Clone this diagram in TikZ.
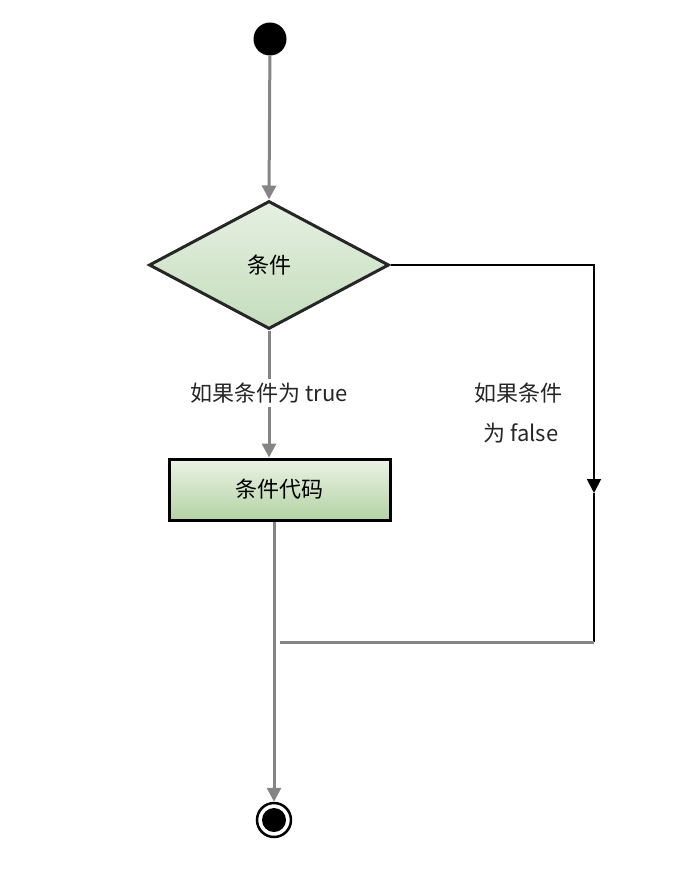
\documentclass[tikz,border=0pt]{standalone}
\usepackage{fontspec}
\setmainfont{Noto Sans CJK SC}
\usetikzlibrary{shapes.geometric,arrows.meta}
\definecolor{linegray}{HTML}{858585}
\definecolor{dgreenT}{HTML}{E6F0E2}
\definecolor{dgreenB}{HTML}{C4DDBC}
\definecolor{bgreenT}{HTML}{EBF3E6}
\definecolor{bgreenB}{HTML}{B3D2A3}
\tikzset{
  tip/.style={-{Triangle[width=14pt,length=14pt]}},
  flowline/.style={draw=linegray,line width=3pt},
  falseline/.style={draw=black,line width=1.8pt},
  lbl/.style={font=\fontsize{22}{26}\selectfont,text=black!85},
  cond/.style={diamond,draw=black!85,line width=3pt,minimum width=240pt,minimum height=128pt,inner sep=0pt,top color=dgreenT,bottom color=dgreenB,font=\fontsize{22}{26}\selectfont},
  codebox/.style={rectangle,draw=black,line width=3pt,minimum width=221pt,minimum height=61pt,top color=bgreenT,bottom color=bgreenB,font=\fontsize{22}{26}\selectfont},
}
\begin{document}
\begin{tikzpicture}[x=1pt,y=-1pt]
\useasboundingbox (0,0) rectangle (693,890);
\node[circle,fill=black,minimum size=33pt,inner sep=0pt] (start) at (270,39) {};
\node[cond] (c) at (269,265) {条件};
\node[codebox] (code) at (279.5,489.5) {条件代码};
\node[circle,draw=black,line width=2.5pt,minimum size=34pt,inner sep=0pt] (end) at (274,820) {};
\fill[black] (end) circle (12pt);
\coordinate (r) at (594,265);
\coordinate (fa) at (594,493);
\coordinate (m) at (594,642);
\coordinate (j) at (280,642);
% start to condition
\draw[flowline,tip] (start) -- (c.north);
% true branch
\draw[flowline,tip] (c.south) -- (c.south |- code.north)
  node[pos=0.49,fill=white,lbl,inner sep=4pt] {如果条件为 true};
% code to end
\draw[flowline,tip] (end.north |- code.south) -- (end.north);
% false branch
\draw[falseline,tip] (c.east) -- (r) -- (fa);
\draw[falseline] (fa) -- (m);
\draw[flowline] (m) -- (j);
\node[lbl] (fl1) at (518,393) {如果条件};
\node[lbl] (fl2) at (521,433) {为 false};
\end{tikzpicture}
\end{document}
